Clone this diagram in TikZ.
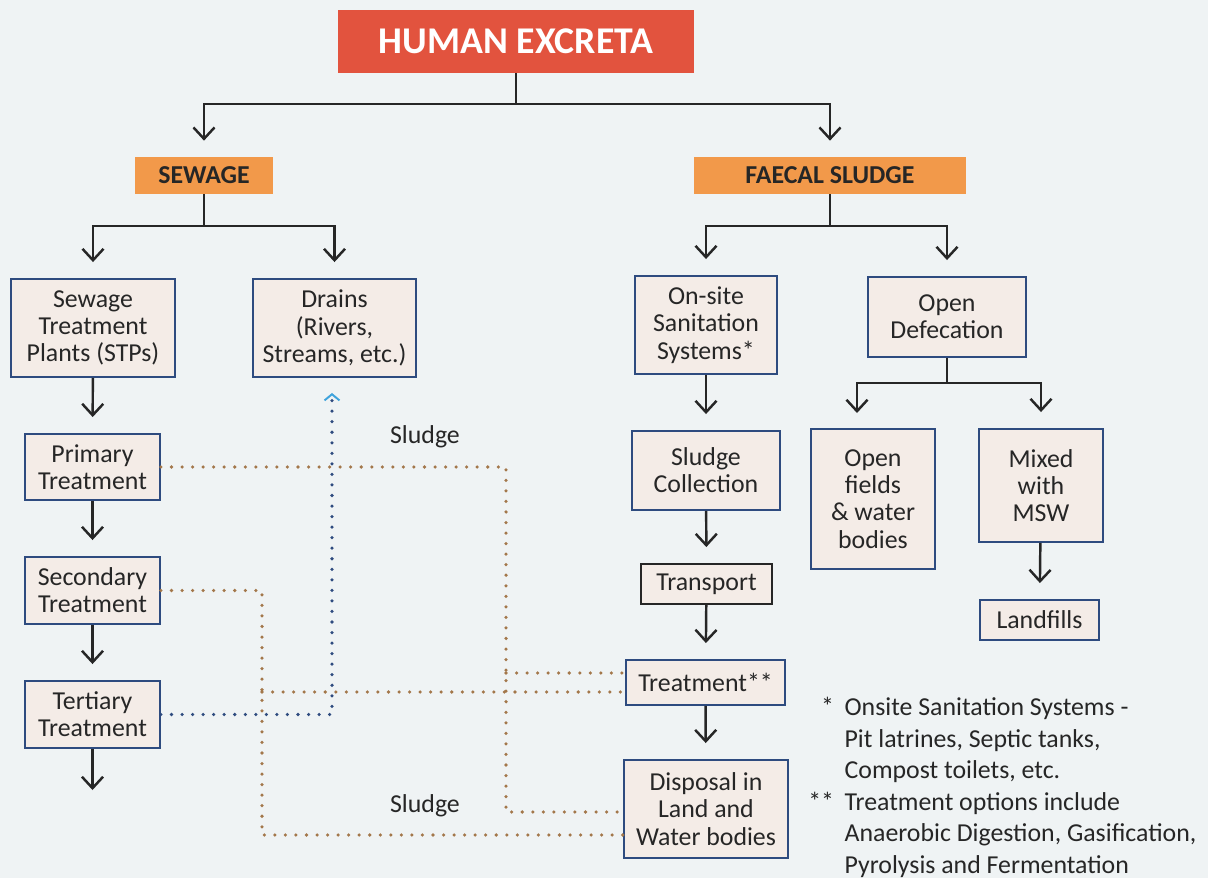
\documentclass[tikz,border=0pt]{standalone}
\usepackage{fontspec}
\setmainfont{Carlito}
\usepackage{tikz}
\usetikzlibrary{arrows.meta,calc}
\definecolor{bgpale}{HTML}{EFF3F4}
\definecolor{exred}{HTML}{E2533E}
\definecolor{headorange}{HTML}{F2994A}
\definecolor{boxfill}{HTML}{F4ECE7}
\definecolor{boxnavy}{HTML}{2E4B7F}
\definecolor{inkdark}{HTML}{262626}
\definecolor{sludgebrown}{HTML}{A3774A}
\definecolor{tipblue}{HTML}{3EA3DC}
\tikzset{
  topbox/.style={fill=exred,text=white,font=\fontsize{21.5}{24}\selectfont\bfseries,
                 minimum width=7.12cm,minimum height=1.26cm},
  headbox/.style={fill=headorange,text=inkdark,font=\fontsize{14.7}{17}\selectfont\bfseries,
                  minimum height=0.74cm},
  stagebox/.style={draw=boxnavy,fill=boxfill,line width=1.1pt,text=inkdark,align=center,
                   font=\fontsize{14.7}{15.5}\selectfont,inner sep=2pt},
  link/.style={line width=1.4pt,draw=inkdark},
  flow/.style={link,->},
  flowin/.style={flow,shorten >=0.32cm},
  sludgeline/.style={draw=sludgebrown,line width=2pt,line cap=round,
                     dash pattern=on 0pt off 6pt},
  effluent/.style={draw=boxnavy,line width=2pt,line cap=round,
                   dash pattern=on 0pt off 6pt},
  plainlabel/.style={text=inkdark,font=\fontsize{14.7}{15.5}\selectfont},
}

\begin{document}
\begin{tikzpicture}[x=0.02cm,y=-0.02cm,>={Straight Barb[length=6.5pt,width=12pt]}]
  % canvas
  \fill[bgpale] (0,0) rectangle (1208,878);
  \useasboundingbox (0,0) rectangle (1208,878);

  % top levels
  \node[topbox] (excreta) at (516,41.5) {HUMAN EXCRETA};
  \node[headbox,minimum width=2.76cm] (sewage) at (204,175.5) {SEWAGE};
  \node[headbox,minimum width=5.44cm] (faecal) at (830,175.5) {FAECAL SLUDGE};

  % sewage side
  \node[stagebox,minimum width=3.28cm,minimum height=1.96cm] (stp) at (93,328)
    {Sewage\\Treatment\\Plants (STPs)};
  \node[stagebox,minimum width=3.26cm,minimum height=1.96cm] (drains) at (334.5,328)
    {Drains\\(Rivers,\\Streams, etc.)};
  \node[stagebox,minimum width=2.7cm,minimum height=1.32cm] (primary) at (92.5,467)
    {Primary\\Treatment};
  \node[stagebox,minimum width=2.7cm,minimum height=1.34cm] (secondary) at (92.5,590.5)
    {Secondary\\Treatment};
  \node[stagebox,minimum width=2.7cm,minimum height=1.34cm] (tertiary) at (92.5,714.5)
    {Tertiary\\Treatment};

  % faecal sludge side
  \node[stagebox,minimum width=2.84cm,minimum height=1.96cm] (onsite) at (706,325)
    {On-site\\Sanitation\\Systems*};
  \node[stagebox,minimum width=3.16cm,minimum height=1.6cm] (opendef) at (947,317)
    {Open\\Defecation};
  \node[stagebox,minimum width=2.96cm,minimum height=1.58cm] (collect) at (706,470.5)
    {Sludge\\Collection};
  \node[stagebox,draw=inkdark,minimum width=2.62cm,minimum height=0.8cm] (transport) at (706.5,584)
    {Transport};
  \node[stagebox,minimum width=3.18cm,minimum height=0.9cm] (treat) at (705.5,682.5)
    {Treatment**};
  \node[stagebox,minimum width=3.28cm,minimum height=1.96cm] (disposal) at (706,809)
    {Disposal in\\Land and\\Water bodies};
  \node[stagebox,minimum width=2.48cm,minimum height=2.8cm] (fields) at (873,499)
    {Open\\fields\\\& water\\bodies};
  \node[stagebox,minimum width=2.48cm,minimum height=2.26cm] (mixed) at (1041,485.5)
    {Mixed\\with\\MSW};
  \node[stagebox,minimum width=2.38cm,minimum height=0.8cm] (landfill) at (1039.5,620)
    {Landfills};

  % split points
  \coordinate (splitTop) at (516,104);
  \coordinate (splitSew) at (204,226);
  \coordinate (splitFae) at (830,226);
  \coordinate (splitOpen) at (947,383);
  \coordinate (fieldsIn) at (857,429);
  \coordinate (outlet) at (92.5,790);

  \draw[link] (excreta) -- (splitTop);
  \draw[flowin] (splitTop) -| (sewage);
  \draw[flowin] (splitTop) -| (faecal);
  \draw[link] (sewage) -- (splitSew);
  \draw[flowin] (splitSew) -| (stp);
  \draw[flowin] (splitSew) -| (drains);
  \draw[link] (faecal) -- (splitFae);
  \draw[flowin] (splitFae) -| (onsite);
  \draw[flowin] (splitFae) -| (opendef);
  \draw[link] (opendef) -- (splitOpen);
  \draw[flowin] (splitOpen) -| (fieldsIn);
  \draw[flowin] (splitOpen) -| (mixed);

  \draw[flowin] (stp) -- (primary);
  \draw[flowin] (primary) -- (secondary);
  \draw[flowin] (secondary) -- (tertiary);
  \draw[flow] (tertiary) -- (outlet);
  \draw[flowin] (onsite) -- (collect);
  \draw[flowin] (collect) -- (transport);
  \draw[flowin] (transport) -- (treat);
  \draw[flowin] (treat) -- (disposal);
  \draw[flowin] (mixed) -- (landfill);

  % sludge routes (dotted)
  \coordinate (treatA) at ($(treat.west)+(0,-9.5)$);
  \coordinate (treatB) at ($(treat.west)+(0,9.5)$);
  \coordinate (dispA) at ($(disposal.west)+(0,3)$);
  \coordinate (dispB) at ($(disposal.west)+(0,26)$);
  \coordinate (primTurn) at (506,467);
  \coordinate (secTurn) at (262,590.5);
  \coordinate (terTurn) at (332,714.5);
  \coordinate (drainsIn) at (332,393);

  \draw[sludgeline] (primary.east) -- (primTurn) |- (dispA);
  \draw[sludgeline] (primTurn |- treatA) -- (treatA);
  \draw[sludgeline] (secondary.east) -- (secTurn) |- (dispB);
  \draw[sludgeline] (secTurn |- treatB) -- (treatB);
  \draw[effluent,-{Straight Barb[length=3.5pt,width=8.5pt,color=tipblue,line width=1.1pt]}]
    (tertiary.east) -- (terTurn) -- (drainsIn);

  \node[plainlabel] (sludgeA) at (425,437) {Sludge};
  \node[plainlabel] (sludgeB) at (425,806) {Sludge};

  % notes
  \node[plainlabel,anchor=north west,inner sep=0pt] (notes) at (808,693)
    {\fontsize{14.7}{18}\selectfont
     \begin{tabular}{@{}r@{\hspace{6pt}}l@{}}
       {*} & Onsite Sanitation Systems -\\
           & Pit latrines, Septic tanks,\\
           & Compost toilets, etc.\\
       {**} & Treatment options include\\
           & Anaerobic Digestion, Gasification,\\
           & Pyrolysis and Fermentation
     \end{tabular}};
\end{tikzpicture}
\end{document}
